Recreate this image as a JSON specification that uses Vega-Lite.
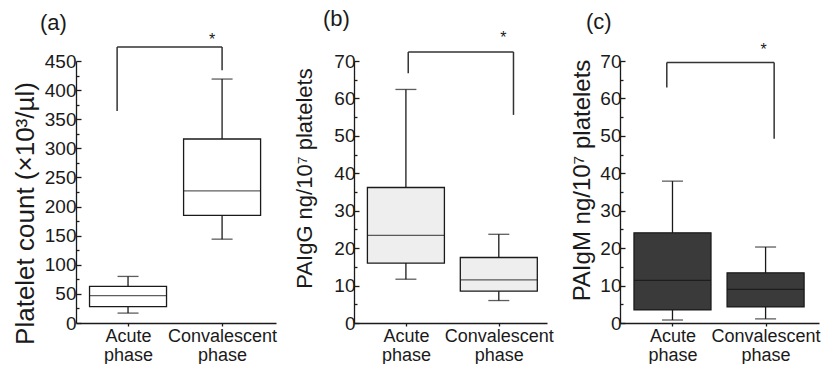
{
  "$schema": "https://vega.github.io/schema/vega-lite/v6.json",
  "padding": {"left": 12, "top": 8, "right": 0, "bottom": 0},
  "spacing": 16,
  "config": {
    "view": {"stroke": null},
    "font": "Liberation Sans",
    "axis": {"grid": false, "labelFont": "Liberation Sans", "titleFont": "Liberation Sans", "labelColor": "#1a1a1a", "titleColor": "#1a1a1a", "domainColor": "#1a1a1a", "tickColor": "#1a1a1a", "domainWidth": 1.3, "tickWidth": 1.3, "labelFontSize": 18, "titleFontSize": 22, "titleFontWeight": "normal", "labelOverlap": false},
    "title": {"font": "Liberation Sans", "fontSize": 22, "fontWeight": "normal", "color": "#1a1a1a", "anchor": "start", "frame": "group"}
  },
  "datasets": {
    "boxes": [
      {"panel": "a", "x": 1, "min": 17, "q1": 28, "med": 47, "q3": 63, "max": 80},
      {"panel": "a", "x": 2, "min": 144, "q1": 185, "med": 227, "q3": 316, "max": 419},
      {"panel": "b", "x": 1, "min": 11.7, "q1": 16, "med": 23.4, "q3": 36.2, "max": 62.4},
      {"panel": "b", "x": 2, "min": 6, "q1": 8.5, "med": 11.5, "q3": 17.5, "max": 23.7},
      {"panel": "c", "x": 1, "min": 0.8, "q1": 3.5, "med": 11.4, "q3": 24.1, "max": 37.9},
      {"panel": "c", "x": 2, "min": 1.1, "q1": 4.3, "med": 9, "q3": 13.4, "max": 20.3}
    ],
    "brackets": [
      {"panel": "a", "xl": 0.884, "xr": 2.0, "top": 474, "yl": 364, "yr": 434, "xs": 1.894, "ys": 477, "star": "*"},
      {"panel": "b", "xl": 1.025, "xr": 2.158, "top": 72.4, "yl": 66.7, "yr": 55.6, "xs": 2.05, "ys": 74.8, "star": "*"},
      {"panel": "c", "xl": 0.939, "xr": 2.092, "top": 69.6, "yl": 62.9, "yr": 49.2, "xs": 1.98, "ys": 71.6, "star": "*"}
    ]
  },
  "hconcat": [
    {
      "width": 200, "height": 262,
      "title": {"text": "(a)", "dx": -36, "offset": -3},
      "layer": [
        {
          "data": {"name": "boxes"},
          "transform": [{"filter": "datum.panel == 'a'"}],
          "mark": {"type": "rule", "color": "#1a1a1a", "strokeWidth": 1.3},
          "encoding": {
            "x": {"field": "x", "type": "quantitative", "scale": {"domain": [0.5, 2.52], "nice": false, "zero": false},
                  "axis": {"values": [1, 2], "tickCount": 10, "title": null, "tickSize": 3, "labelPadding": 1, "labelLineHeight": 19, "labelOverlap": false, "labelExpr": "datum.value == 1 ? ['Acute', 'phase'] : ['Convalescent', 'phase']"}},
            "y": {"field": "min", "type": "quantitative", "scale": {"domain": [0, 450], "nice": false},
                  "axis": {"values": [0, 25, 50, 75, 100, 125, 150, 175, 200, 225, 250, 275, 300, 325, 350, 375, 400, 425, 450], "tickCount": 100, "format": "d", "labelOverlap": false, "labelExpr": "datum.value % 50 == 0 ? datum.label : ''", "labelFontSize": 19, "tickSize": {"condition": {"test": "datum.value % 50 == 0", "value": -5}, "value": -3}, "labelPadding": 5, "title": "Platelet count (×10³/µl)", "titleFontSize": 26, "titlePadding": 6, "titleY": 152}},
            "y2": {"field": "max"}
          }
        },
        {
          "data": {"name": "boxes"},
          "transform": [{"filter": "datum.panel == 'a'"}],
          "mark": {"type": "bar", "orient": "vertical", "size": 77, "fill": "#ffffff", "stroke": "#1a1a1a", "strokeWidth": 1.3},
          "encoding": {"x": {"field": "x", "type": "quantitative"}, "y": {"field": "q1", "type": "quantitative"}, "y2": {"field": "q3"}}
        },
        {
          "data": {"name": "boxes"},
          "transform": [{"filter": "datum.panel == 'a'"}],
          "mark": {"type": "tick", "orient": "horizontal", "size": 77, "thickness": 1.3, "color": "#1a1a1a"},
          "encoding": {"x": {"field": "x", "type": "quantitative"}, "y": {"field": "med", "type": "quantitative"}}
        },
        {
          "data": {"name": "boxes"},
          "transform": [{"filter": "datum.panel == 'a'"}],
          "mark": {"type": "tick", "orient": "horizontal", "size": 21, "thickness": 1.3, "color": "#1a1a1a"},
          "encoding": {"x": {"field": "x", "type": "quantitative"}, "y": {"field": "min", "type": "quantitative"}}
        },
        {
          "data": {"name": "boxes"},
          "transform": [{"filter": "datum.panel == 'a'"}],
          "mark": {"type": "tick", "orient": "horizontal", "size": 21, "thickness": 1.3, "color": "#1a1a1a"},
          "encoding": {"x": {"field": "x", "type": "quantitative"}, "y": {"field": "max", "type": "quantitative"}}
        },
        {
          "data": {"name": "brackets"},
          "transform": [{"filter": "datum.panel == 'a'"}],
          "mark": {"type": "rule", "color": "#333333", "strokeWidth": 1.5},
          "encoding": {"x": {"field": "xl", "type": "quantitative"}, "x2": {"field": "xr"}, "y": {"field": "top", "type": "quantitative"}}
        },
        {
          "data": {"name": "brackets"},
          "transform": [{"filter": "datum.panel == 'a'"}],
          "mark": {"type": "rule", "color": "#333333", "strokeWidth": 1.5},
          "encoding": {"x": {"field": "xl", "type": "quantitative"}, "y": {"field": "yl", "type": "quantitative"}, "y2": {"field": "top"}}
        },
        {
          "data": {"name": "brackets"},
          "transform": [{"filter": "datum.panel == 'a'"}],
          "mark": {"type": "rule", "color": "#333333", "strokeWidth": 1.5},
          "encoding": {"x": {"field": "xr", "type": "quantitative"}, "y": {"field": "yr", "type": "quantitative"}, "y2": {"field": "top"}}
        },
        {
          "data": {"name": "brackets"},
          "transform": [{"filter": "datum.panel == 'a'"}],
          "mark": {"type": "text", "fontSize": 16, "baseline": "alphabetic", "color": "#1a1a1a"},
          "encoding": {"x": {"field": "xs", "type": "quantitative"}, "y": {"field": "ys", "type": "quantitative"}, "text": {"field": "star"}}
        }
      ]
    },
    {
      "width": 193, "height": 262,
      "title": {"text": "(b)", "dx": -31, "offset": -1},
      "layer": [
        {
          "data": {"name": "boxes"},
          "transform": [{"filter": "datum.panel == 'b'"}],
          "mark": {"type": "rule", "color": "#1a1a1a", "strokeWidth": 1.3},
          "encoding": {
            "x": {"field": "x", "type": "quantitative", "scale": {"domain": [0.495, 2.465], "nice": false, "zero": false},
                  "axis": {"values": [1, 2], "tickCount": 10, "title": null, "tickSize": 3, "labelPadding": 1, "labelLineHeight": 19, "labelOverlap": false, "labelExpr": "datum.value == 1 ? ['Acute', 'phase'] : ['Convalescent', 'phase']"}},
            "y": {"field": "min", "type": "quantitative", "scale": {"domain": [0, 70], "nice": false},
                  "axis": {"values": [0, 5, 10, 15, 20, 25, 30, 35, 40, 45, 50, 55, 60, 65, 70], "tickCount": 100, "format": "d", "labelOverlap": false, "labelExpr": "datum.value % 10 == 0 ? datum.label : ''", "labelFontSize": 19, "tickSize": {"condition": {"test": "datum.value % 10 == 0", "value": -5}, "value": -3}, "labelPadding": 4, "title": "PAIgG ng/10⁷ platelets", "titlePadding": 17, "titleY": 117}},
            "y2": {"field": "max"}
          }
        },
        {
          "data": {"name": "boxes"},
          "transform": [{"filter": "datum.panel == 'b'"}],
          "mark": {"type": "bar", "orient": "vertical", "size": 77, "fill": "#eeeeee", "stroke": "#1a1a1a", "strokeWidth": 1.3},
          "encoding": {"x": {"field": "x", "type": "quantitative"}, "y": {"field": "q1", "type": "quantitative"}, "y2": {"field": "q3"}}
        },
        {
          "data": {"name": "boxes"},
          "transform": [{"filter": "datum.panel == 'b'"}],
          "mark": {"type": "tick", "orient": "horizontal", "size": 77, "thickness": 1.3, "color": "#1a1a1a"},
          "encoding": {"x": {"field": "x", "type": "quantitative"}, "y": {"field": "med", "type": "quantitative"}}
        },
        {
          "data": {"name": "boxes"},
          "transform": [{"filter": "datum.panel == 'b'"}],
          "mark": {"type": "tick", "orient": "horizontal", "size": 21, "thickness": 1.3, "color": "#1a1a1a"},
          "encoding": {"x": {"field": "x", "type": "quantitative"}, "y": {"field": "min", "type": "quantitative"}}
        },
        {
          "data": {"name": "boxes"},
          "transform": [{"filter": "datum.panel == 'b'"}],
          "mark": {"type": "tick", "orient": "horizontal", "size": 21, "thickness": 1.3, "color": "#1a1a1a"},
          "encoding": {"x": {"field": "x", "type": "quantitative"}, "y": {"field": "max", "type": "quantitative"}}
        },
        {
          "data": {"name": "brackets"},
          "transform": [{"filter": "datum.panel == 'b'"}],
          "mark": {"type": "rule", "color": "#333333", "strokeWidth": 1.5},
          "encoding": {"x": {"field": "xl", "type": "quantitative"}, "x2": {"field": "xr"}, "y": {"field": "top", "type": "quantitative"}}
        },
        {
          "data": {"name": "brackets"},
          "transform": [{"filter": "datum.panel == 'b'"}],
          "mark": {"type": "rule", "color": "#333333", "strokeWidth": 1.5},
          "encoding": {"x": {"field": "xl", "type": "quantitative"}, "y": {"field": "yl", "type": "quantitative"}, "y2": {"field": "top"}}
        },
        {
          "data": {"name": "brackets"},
          "transform": [{"filter": "datum.panel == 'b'"}],
          "mark": {"type": "rule", "color": "#333333", "strokeWidth": 1.5},
          "encoding": {"x": {"field": "xr", "type": "quantitative"}, "y": {"field": "yr", "type": "quantitative"}, "y2": {"field": "top"}}
        },
        {
          "data": {"name": "brackets"},
          "transform": [{"filter": "datum.panel == 'b'"}],
          "mark": {"type": "text", "fontSize": 16, "baseline": "alphabetic", "color": "#1a1a1a"},
          "encoding": {"x": {"field": "xs", "type": "quantitative"}, "y": {"field": "ys", "type": "quantitative"}, "text": {"field": "star"}}
        }
      ]
    },
    {
      "width": 199, "height": 262,
      "title": {"text": "(c)", "dx": -34, "offset": 8},
      "layer": [
        {
          "data": {"name": "boxes"},
          "transform": [{"filter": "datum.panel == 'c'"}],
          "mark": {"type": "rule", "color": "#1a1a1a", "strokeWidth": 1.3},
          "encoding": {
            "x": {"field": "x", "type": "quantitative", "scale": {"domain": [0.49, 2.52], "nice": false, "zero": false},
                  "axis": {"values": [1, 2], "tickCount": 10, "title": null, "tickSize": 3, "labelPadding": 1, "labelLineHeight": 19, "labelOverlap": false, "labelExpr": "datum.value == 1 ? ['Acute', 'phase'] : ['Convalescent', 'phase']"}},
            "y": {"field": "min", "type": "quantitative", "scale": {"domain": [0, 70], "nice": false},
                  "axis": {"values": [0, 5, 10, 15, 20, 25, 30, 35, 40, 45, 50, 55, 60, 65, 70], "tickCount": 100, "format": "d", "labelOverlap": false, "labelExpr": "datum.value % 10 == 0 ? datum.label : ''", "labelFontSize": 19, "tickSize": {"condition": {"test": "datum.value % 10 == 0", "value": -5}, "value": -3}, "labelPadding": 4, "title": "PAIgM ng/10⁷ platelets", "titleFontSize": 24, "titlePadding": 5, "titleY": 119}},
            "y2": {"field": "max"}
          }
        },
        {
          "data": {"name": "boxes"},
          "transform": [{"filter": "datum.panel == 'c'"}],
          "mark": {"type": "bar", "orient": "vertical", "size": 77, "fill": "#3a3a3a", "stroke": "#1a1a1a", "strokeWidth": 1.3},
          "encoding": {"x": {"field": "x", "type": "quantitative"}, "y": {"field": "q1", "type": "quantitative"}, "y2": {"field": "q3"}}
        },
        {
          "data": {"name": "boxes"},
          "transform": [{"filter": "datum.panel == 'c'"}],
          "mark": {"type": "tick", "orient": "horizontal", "size": 77, "thickness": 1.3, "color": "#111111"},
          "encoding": {"x": {"field": "x", "type": "quantitative"}, "y": {"field": "med", "type": "quantitative"}}
        },
        {
          "data": {"name": "boxes"},
          "transform": [{"filter": "datum.panel == 'c'"}],
          "mark": {"type": "tick", "orient": "horizontal", "size": 21, "thickness": 1.3, "color": "#1a1a1a"},
          "encoding": {"x": {"field": "x", "type": "quantitative"}, "y": {"field": "min", "type": "quantitative"}}
        },
        {
          "data": {"name": "boxes"},
          "transform": [{"filter": "datum.panel == 'c'"}],
          "mark": {"type": "tick", "orient": "horizontal", "size": 21, "thickness": 1.3, "color": "#1a1a1a"},
          "encoding": {"x": {"field": "x", "type": "quantitative"}, "y": {"field": "max", "type": "quantitative"}}
        },
        {
          "data": {"name": "brackets"},
          "transform": [{"filter": "datum.panel == 'c'"}],
          "mark": {"type": "rule", "color": "#333333", "strokeWidth": 1.5},
          "encoding": {"x": {"field": "xl", "type": "quantitative"}, "x2": {"field": "xr"}, "y": {"field": "top", "type": "quantitative"}}
        },
        {
          "data": {"name": "brackets"},
          "transform": [{"filter": "datum.panel == 'c'"}],
          "mark": {"type": "rule", "color": "#333333", "strokeWidth": 1.5},
          "encoding": {"x": {"field": "xl", "type": "quantitative"}, "y": {"field": "yl", "type": "quantitative"}, "y2": {"field": "top"}}
        },
        {
          "data": {"name": "brackets"},
          "transform": [{"filter": "datum.panel == 'c'"}],
          "mark": {"type": "rule", "color": "#333333", "strokeWidth": 1.5},
          "encoding": {"x": {"field": "xr", "type": "quantitative"}, "y": {"field": "yr", "type": "quantitative"}, "y2": {"field": "top"}}
        },
        {
          "data": {"name": "brackets"},
          "transform": [{"filter": "datum.panel == 'c'"}],
          "mark": {"type": "text", "fontSize": 16, "baseline": "alphabetic", "color": "#1a1a1a"},
          "encoding": {"x": {"field": "xs", "type": "quantitative"}, "y": {"field": "ys", "type": "quantitative"}, "text": {"field": "star"}}
        }
      ]
    }
  ]
}
